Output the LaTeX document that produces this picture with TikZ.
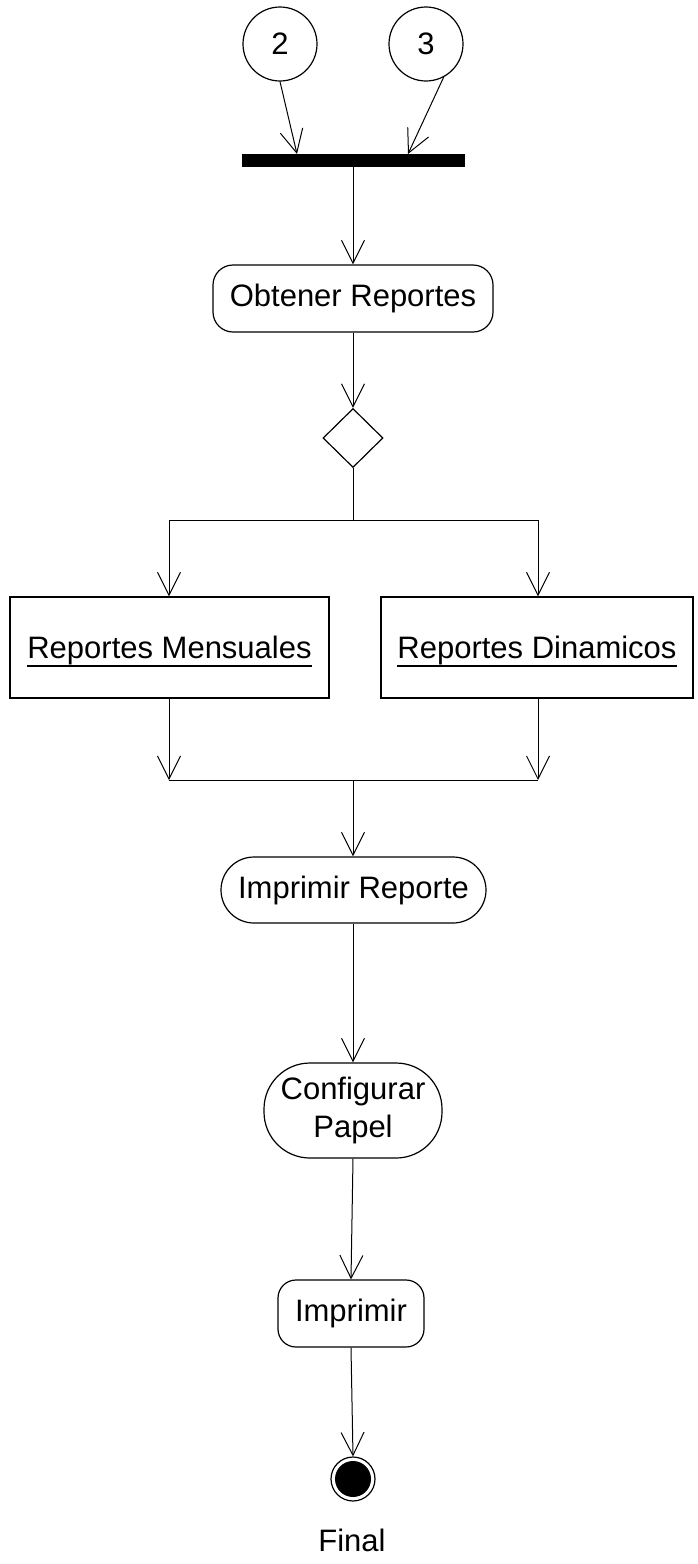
\documentclass[tikz,border=0pt]{standalone}
\usepackage{fontspec}
\setmainfont{Liberation Sans}
\usetikzlibrary{shapes.geometric,arrows.meta}
\newcommand\myul[1]{\setbox0\hbox{#1}\rlap{\smash{\rule[-8pt]{\wd0}{1.3pt}}}\box0}
\tikzset{
  lbl/.style={font=\fontsize{31}{38}\selectfont},
  arr/.style={line width=1pt,-{Straight Barb[length=23pt,width=23pt,line width=1pt]}},
  ln/.style={line width=1pt},
  circnode/.style={draw,circle,line width=1.2pt,minimum size=74pt,inner sep=0pt,lbl},
  act/.style={draw,rectangle,line width=1.2pt,inner sep=0pt,align=center,lbl},
  objbox/.style={draw,rectangle,line width=1.2pt,inner sep=0pt,lbl,text height=22pt,text depth=0pt},
}
\begin{document}
\begin{tikzpicture}[x=1pt,y=-1pt]
\useasboundingbox (0,0) rectangle (698,1564);
\fill[white] (0,0) rectangle (698,1564);
% nodes
\node[circnode] (c2) at (280,44) {2};
\node[circnode] (c3) at (426,44) {3};
\node[fill=black,draw=none,rectangle,minimum width=223pt,minimum height=13pt,inner sep=0pt] (bar) at (353,160.5) {};
\coordinate (b2) at (297,154);
\coordinate (b3) at (408,154);
\node[act,minimum width=280pt,minimum height=67pt,rounded corners=20pt] (obt) at (353,298.5) {Obtener Reportes};
\node[draw,diamond,line width=1.2pt,minimum width=60pt,minimum height=59pt,inner sep=0pt] (dia) at (353,438) {};
\coordinate (fork) at (353,520);
\coordinate (forkL) at (169,520);
\coordinate (forkR) at (538,520);
\node[objbox,minimum width=319pt,minimum height=101pt] (rm) at (169.5,647.5) {\myul{Reportes Mensuales}};
\node[objbox,minimum width=312pt,minimum height=101pt] (rd) at (537,647.5) {\myul{Reportes Dinamicos}};
\coordinate (join) at (353,780);
\coordinate (joinL) at (169,780);
\coordinate (joinR) at (538,780);
\node[act,minimum width=265pt,minimum height=66pt,rounded corners=33pt] (imp) at (353.5,890) {Imprimir Reporte};
\node[act,minimum width=178pt,minimum height=95pt,rounded corners=46pt] (conf) at (353,1110.5) {Configurar\\Papel};
\node[act,minimum width=146pt,minimum height=67pt,rounded corners=18pt] (impr) at (351,1313.5) {Imprimir};
\node[draw,circle,line width=1.2pt,minimum size=44pt,inner sep=0pt] (fin) at (353,1479) {};
\fill[black] (fin.center) circle (18pt);
\node[lbl] (finlbl) at (352,1540) {Final};
% connectors
\draw[arr] (c2.south) -- (b2);
\draw[arr] (c3.-62) -- (b3);
\draw[arr] (bar) -- (obt);
\draw[arr] (obt) -- (dia);
\draw[ln] (dia.south) -- (fork);
\draw[ln] (forkL) -- (forkR);
\draw[arr] (forkL) -- (forkL |- rm.north);
\draw[arr] (forkR) -- (forkR |- rd.north);
\draw[arr] (rm.south -| joinL) -- (joinL);
\draw[arr] (rd.south -| joinR) -- (joinR);
\draw[ln] (joinL) -- (joinR);
\draw[arr] (join) -- (imp.north -| join);
\draw[arr] (imp.south -| conf) -- (conf.north);
\draw[arr] (conf.south) -- (impr.north);
\draw[arr] (impr.south) -- (fin.north);
\end{tikzpicture}
\end{document}
